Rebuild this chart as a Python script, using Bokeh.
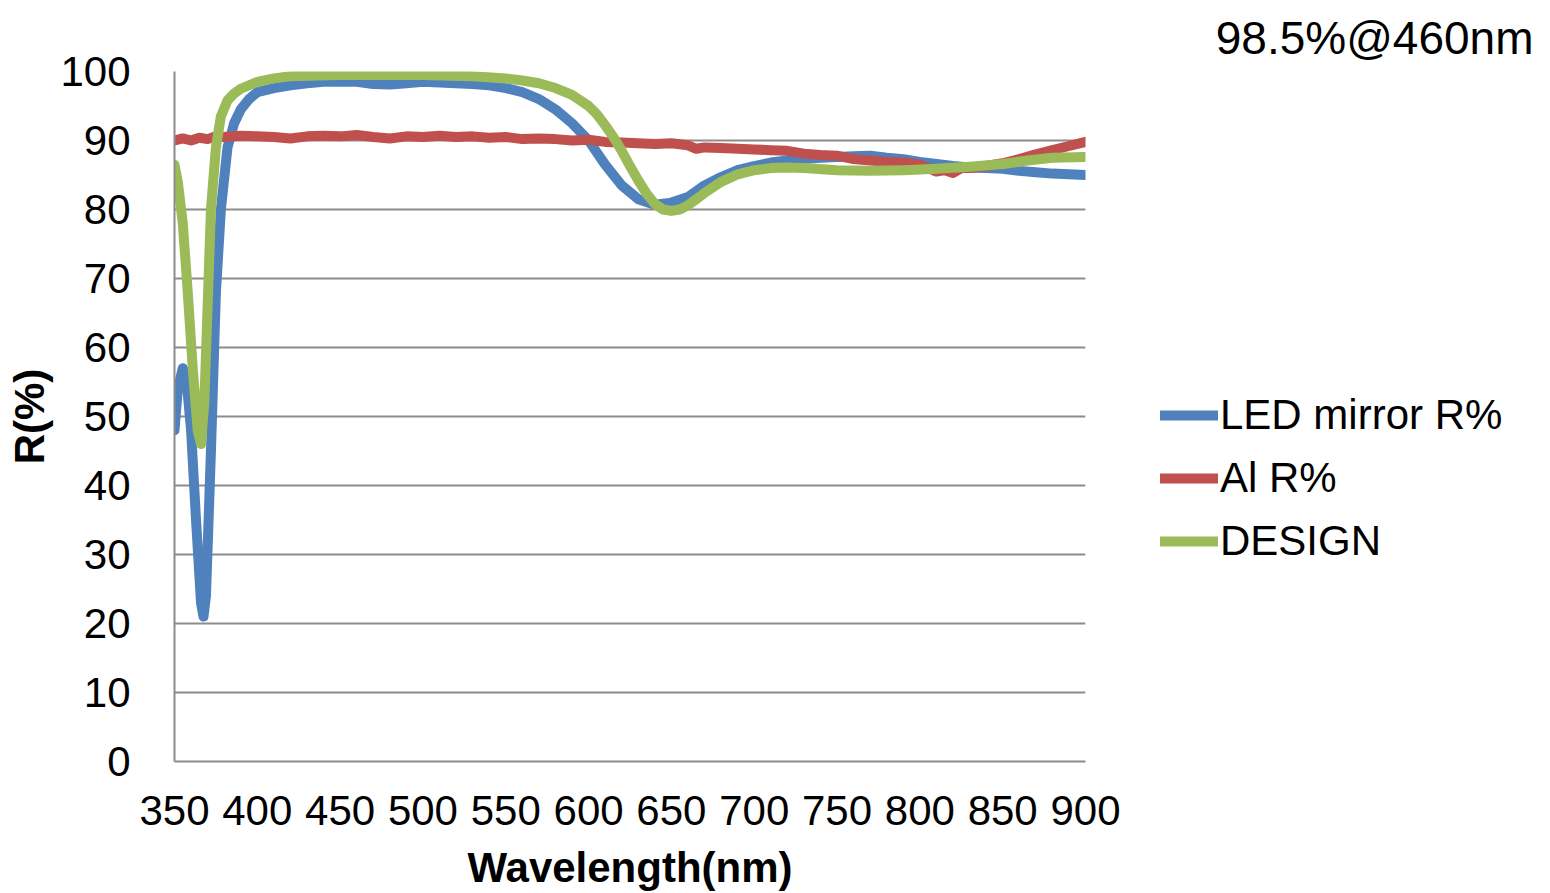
from bokeh.plotting import figure
from bokeh.layouts import row
from bokeh.models import Range1d, FixedTicker, Legend, LegendItem
from bokeh.embed import file_html
from bokeh.resources import INLINE

# LED mirror R% (measured)
led_nm = [350, 352, 355, 357, 360, 363, 366, 367.5, 369, 372, 375, 378, 382, 386, 390, 395,
          400, 410, 420, 430, 440, 450, 460, 470, 480, 490, 500, 510, 520, 530, 540, 550,
          560, 570, 580, 590, 600, 610, 620, 630, 640, 650, 660, 670, 680, 690, 700, 710,
          720, 730, 740, 750, 760, 770, 780, 790, 800, 810, 820, 830, 840, 850, 860, 870,
          880, 890, 900]
led_r = [48, 54, 57, 56, 48, 35, 23, 21, 24, 45, 68, 80, 89, 92.5, 94.5, 96,
         97, 97.6, 98, 98.3, 98.5, 98.5, 98.5, 98.2, 98.1, 98.3, 98.5, 98.4, 98.3, 98.2, 98, 97.6,
         97, 96, 94.5, 92.5, 90, 86.5, 83.5, 81.5, 80.7, 81, 81.8, 83.5, 84.7, 85.7, 86.3, 86.8,
         87.1, 87.3, 87.5, 87.6, 87.7, 87.8, 87.5, 87.3, 86.9, 86.6, 86.3, 86.1, 86, 85.9, 85.6, 85.4,
         85.2, 85.1, 85]

# Al R%
al_nm = [350, 355, 360, 365, 370, 375, 380, 390, 400, 410, 420, 430, 440, 450, 460, 470,
         480, 490, 500, 510, 520, 530, 540, 550, 560, 570, 580, 590, 600, 610, 620, 630,
         640, 650, 660, 665, 670, 680, 690, 700, 710, 720, 730, 740, 750, 760, 770, 780,
         790, 800, 805, 810, 815, 820, 825, 830, 840, 850, 860, 870, 880, 890, 900]
al_r = [90, 90.3, 90, 90.4, 90.2, 90.6, 90.5, 90.7, 90.6, 90.5, 90.3, 90.6, 90.7, 90.6, 90.8, 90.5,
        90.3, 90.6, 90.5, 90.7, 90.5, 90.6, 90.4, 90.5, 90.2, 90.3, 90.2, 90, 90.1, 89.8, 89.7, 89.6,
        89.5, 89.6, 89.3, 88.8, 89, 88.9, 88.8, 88.7, 88.6, 88.5, 88.1, 87.9, 87.8, 87.3, 87.1, 86.9,
        86.8, 86.5, 86, 85.5, 85.7, 85.3, 86, 86, 86.3, 86.7, 87.3, 88, 88.6, 89.2, 89.8]

# DESIGN
des_nm = [350, 352, 355, 358, 361, 364, 366, 368, 370, 372, 375, 378, 382, 386, 390, 400,
          410, 420, 430, 450, 500, 530, 550, 560, 570, 580, 590, 600, 605, 610, 615, 620,
          625, 630, 635, 640, 645, 650, 655, 660, 665, 670, 680, 690, 700, 710, 720, 730,
          750, 770, 790, 810, 830, 850, 865, 880, 900]
des_r = [86.5, 84, 78, 68, 57, 48, 46, 52, 66, 80, 89, 93.5, 95.8, 96.8, 97.5, 98.5,
         99, 99.3, 99.4, 99.5, 99.5, 99.3, 99, 98.7, 98.3, 97.6, 96.6, 95, 93.8, 92.2, 90.5, 88.5,
         86.3, 84.2, 82.3, 80.8, 80, 79.8, 80, 80.6, 81.5, 82.4, 84, 85.1, 85.7, 86, 86.1, 86,
         85.7, 85.6, 85.7, 85.9, 86.2, 86.6, 87.1, 87.5, 87.6]

series_names = ["LED mirror R%", "Al R%", "DESIGN"]
series_colors = ["#4F81BD", "#C0504D", "#9BBB59"]
x_ticks = [350, 400, 450, 500, 550, 600, 650, 700, 750, 800, 850, 900]
y_ticks = [0, 10, 20, 30, 40, 50, 60, 70, 80, 90, 100]
annotation = "98.5%@460nm"

FONT = "Liberation Sans"
GRID = "#8c8c8c"
LW = 10
H = 893

p = figure(width=1140, height=H, output_backend="svg", toolbar_location=None,
           x_range=Range1d(350, 900), y_range=Range1d(0, 100))
p.min_border_left = 174
p.min_border_top = 71
p.min_border_right = 55
p.min_border_bottom = 132
p.outline_line_color = None

for ax in (p.xaxis[0], p.yaxis[0]):
    ax.major_tick_line_color = None
    ax.minor_tick_line_color = None
    ax.axis_line_color = GRID
    ax.axis_line_width = 2
    ax.major_label_text_font = FONT
    ax.major_label_text_font_size = "42px"
    ax.major_label_text_color = "black"
    ax.axis_label_text_font = FONT
    ax.axis_label_text_font_size = "42px"
    ax.axis_label_text_font_style = "bold"
    ax.axis_label_text_color = "black"

p.xaxis.ticker = FixedTicker(ticks=x_ticks)
p.yaxis.ticker = FixedTicker(ticks=y_ticks)
p.xaxis.axis_label = "Wavelength(nm)"
p.yaxis.axis_label = "R(%)"
p.xaxis.major_label_standoff = 28
p.yaxis.major_label_standoff = 38
p.xaxis.axis_label_standoff = 16
p.yaxis.axis_label_standoff = 4

p.xgrid.grid_line_color = None
p.ygrid.grid_line_color = GRID
p.ygrid.grid_line_width = 2
p.ygrid.ticker = FixedTicker(ticks=y_ticks[1:])

for xs, ys, c in ((led_nm, led_r, series_colors[0]),
                  (al_nm, al_r, series_colors[1]),
                  (des_nm, des_r, series_colors[2])):
    p.line(xs, ys, line_color=c, line_width=LW, line_join="round", line_cap="round")

# side panel holding the legend and the annotation text (as its title)
p2 = figure(width=1550 - 1140, height=H, output_backend="svg", toolbar_location=None,
            x_range=Range1d(0, 1), y_range=Range1d(0, 1),
            title=annotation, title_location="above")
p2.min_border_left = 0
p2.min_border_right = 0
p2.min_border_top = 0
p2.min_border_bottom = 0
p2.outline_line_color = None
p2.xaxis.visible = False
p2.yaxis.visible = False
p2.xgrid.visible = False
p2.ygrid.visible = False
p2.title.align = "right"
p2.title.offset = 17
p2.title.standoff = 16
p2.title.text_font = FONT
p2.title.text_font_size = "46px"
p2.title.text_font_style = "normal"
p2.title.text_color = "black"

items = []
for name, c in zip(series_names, series_colors):
    # legend swatch renderer, kept outside the visible range of this panel
    r = p2.line([-5, -4], [-5, -4], line_color=c, line_width=LW, line_cap="round")
    items.append(LegendItem(label=name, renderers=[r]))

legend = Legend(items=items, location=(20, 196))
legend.label_text_font = FONT
legend.label_text_font_size = "42px"
legend.label_text_color = "black"
legend.glyph_width = 58
legend.glyph_height = 40
legend.label_height = 40
legend.label_standoff = 2
legend.spacing = 15
legend.padding = 0
legend.margin = 0
legend.border_line_color = None
legend.background_fill_alpha = 0
p2.add_layout(legend)

open("out.html", "w").write(file_html(row(p, p2), INLINE))
